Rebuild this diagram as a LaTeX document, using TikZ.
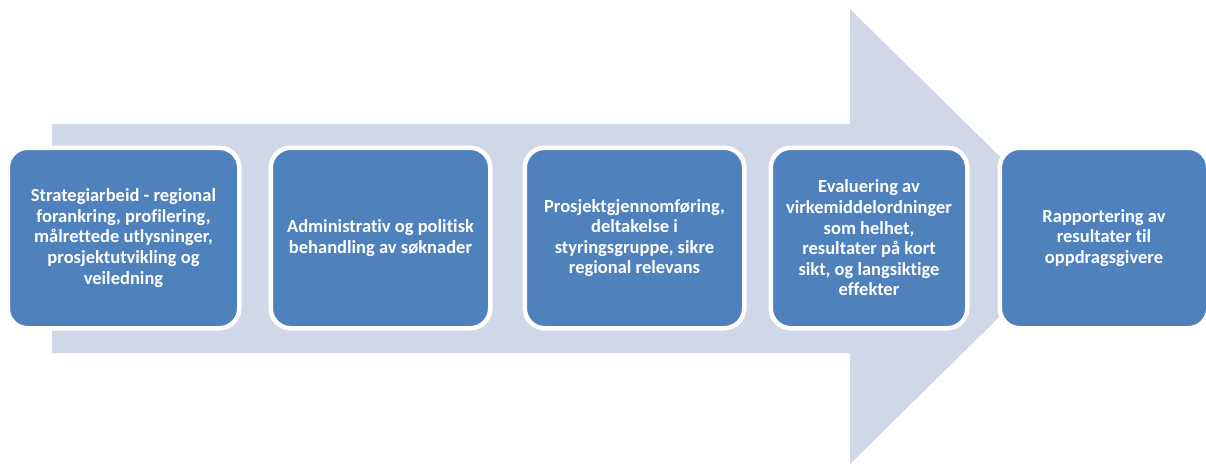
\documentclass[tikz,border=0pt]{standalone}
\usepackage{fontspec}
\setmainfont{Carlito}[Ligatures=NoCommon]
\definecolor{boxblue}{HTML}{4F81BD}
\definecolor{arrowgray}{HTML}{D0D8E8}
\begin{document}
\begin{tikzpicture}[x=1pt,y=-1pt,
  stepbox/.style={draw=white, line width=4.5pt, fill=boxblue, rounded corners=20pt,
    minimum height=180.5pt, inner sep=0pt, align=center, text=white,
    font=\fontsize{18.5}{20.6}\selectfont\bfseries}]
\useasboundingbox (0,0) rectangle (1206,463);
% big background arrow
\fill[arrowgray] (52,124) -- (850,124) -- (850,9) -- (1081,236.5) -- (850,464) -- (850,353) -- (52,353) -- cycle;
% steps
\node[stepbox, minimum width=231.5pt] (s1) at (123.5,238) {Strategiarbeid - regional\\forankring, profilering,\\målrettede utlysninger,\\prosjektutvikling og\\veiledning};
\node[stepbox, minimum width=219.5pt] (s2) at (380.5,238) {Administrativ og politisk\\behandling av søknader};
\node[stepbox, minimum width=219.5pt] (s3) at (634.5,238) {Prosjektgjennomføring,\\deltakelse i\\styringsgruppe, sikre\\regional relevans};
\node[stepbox, minimum width=196.5pt] (s4) at (869,238) {Evaluering av\\virkemiddelordninger\\som helhet,\\resultater på kort\\sikt, og langsiktige\\effekter};
\node[stepbox, minimum width=208.5pt] (s5) at (1104,238) {Rapportering av\\resultater til\\oppdragsgivere};
\end{tikzpicture}
\end{document}
